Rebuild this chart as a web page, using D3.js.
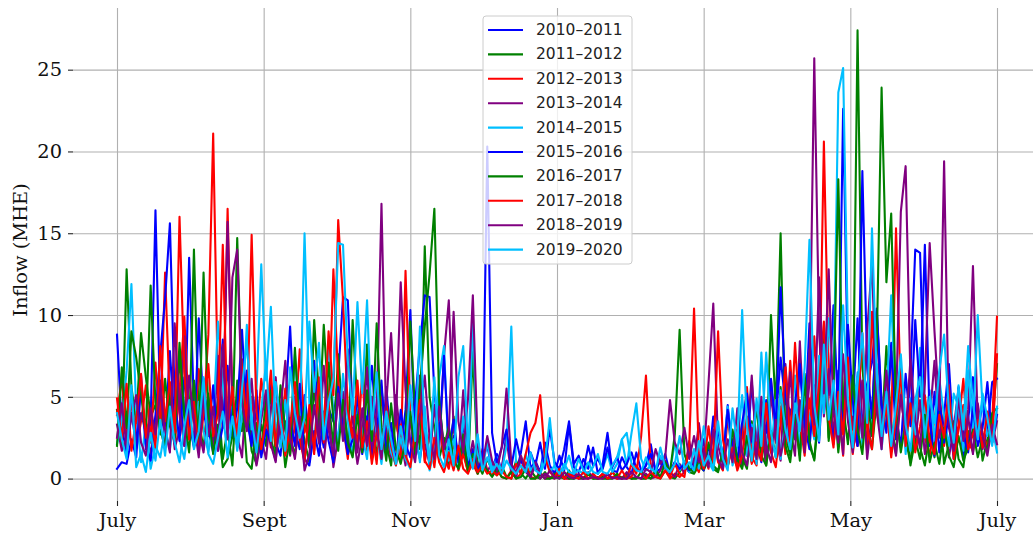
<!DOCTYPE html>
<html>
<head>
<meta charset="utf-8">
<script src="https://cdn.jsdelivr.net/npm/d3@7"></script>
<style>
  body { margin: 0; background: #fff; }
  svg { display: block; }
</style>
</head>
<body>
<div id="chart"></div>
<script>
// Seasons (legend labels) and line colours
const seasons = ["2010–2011", "2011–2012", "2012–2013", "2013–2014", "2014–2015",
                 "2015–2016", "2016–2017", "2017–2018", "2018–2019", "2019–2020"];
const seasonColors = ["blue", "green", "red", "purple", "deepskyblue",
                      "blue", "green", "red", "purple", "deepskyblue"];

// x tick positions (day of season) and labels
const monthTicks = [0, 61, 122, 183, 244, 305, 366];
const monthLabels = ["July", "Sept", "Nov", "Jan", "Mar", "May", "July"];
const inflowTicks = [0, 5, 10, 15, 20, 25];

// Inflow (MHE), sampled every second day from 1 July
const inflow2010 = [8.8,3.2,1.5,4.0,2.1,6.3,1.8,3.5,16.4,4.2, 2.6,7.8,3.1,5.5,2.0,13.5,4.4,2.3,6.1,3.0,
  1.6,4.8,8.5,2.9,5.2,1.9,3.7,6.6,2.4,4.1, 1.7,3.3,5.8,2.2,1.4,4.6,9.3,3.0,1.8,5.1,
  2.5,7.2,3.6,1.9,4.3,3.5,6.2,11.1,10.9,4.0, 4.7,1.5,3.4,6.9,2.7,1.3,5.6,2.1,3.8,1.6,
  4.2,10.3,2.4,1.2,3.1,0.9,2.3,5.0,1.4,0.8, 2.6,1.1,3.4,0.7,1.8,0.6,1.2,2.0,0.5,1.5,
  0.4,2.8,0.9,0.3,1.6,3.5,0.6,1.1,0.4,2.2, 0.8,0.3,1.4,0.5,3.3,0.7,0.4,1.2,0.6,1.9,
  0.3,0.9,2.8,0.5,0.4,1.3,0.7,0.3,1.6,0.5, 0.8,2.1,0.4,0.6,1.5,0.3,1.0,0.5,0.8,0.4,
  1.2,0.6,2.4,0.9,3.8,1.1,0.7,4.5,1.6,0.8, 3.2,1.4,5.9,2.1,1.0,4.8,1.7,3.6,7.4,4.6,
  4.2,2.5,6.8,3.1,9.5,4.0,2.2,7.3,5.1,10.6, 3.8,22.6,6.2,4.5,9.8,3.0,5.8,7.1,10.4,4.6,
  3.2,8.3,2.4,5.7,1.9,6.5,14.0,13.8,4.1,2.0, 5.3,1.6,3.9,7.0,2.2,4.5,1.3,3.6,6.2,2.5,
  4.8,3.0,5.9,6.1];
const inflow2011 = [4.2,2.0,12.8,5.6,3.4,8.9,6.2,3.8,4.5,2.7, 6.1,3.2,2.2,7.4,4.0,2.5,14.0,3.6,1.8,5.2,
  2.4,4.8,1.2,3.0,0.8,6.0,2.9,4.6,1.7,0.9, 3.3,2.0,5.4,1.5,3.8,0.7,2.6,1.4,4.1,2.3,
  1.0,5.5,3.1,9.4,4.7,2.0,7.6,3.4,1.6,9.7, 4.3,2.1,8.2,3.0,1.4,5.6,2.2,0.8,3.9,1.5,
  2.7,9.6,4.0,1.8,14.2,5.0,3.1,1.2,2.5,0.9, 3.8,0.6,1.7,0.4,7.8,0.9,0.3,1.2,0.5,0.2,
  0.8,0.1,0.0,1.1,0.3,0.0,0.5,0.1,0.0,0.4, 0.0,0.3,0.1,0.0,0.5,0.0,0.1,0.0,0.3,0.0,
  0.1,0.0,0.0,0.4,0.1,0.0,0.3,0.0,0.1,0.0, 0.0,0.3,0.1,0.0,0.5,0.1,0.0,0.4,0.9,0.4,
  0.3,0.8,0.5,1.2,0.6,0.4,1.6,0.7,2.4,0.9, 1.3,0.6,3.5,1.0,2.8,0.8,10.0,4.2,15.0,2.6,
  1.4,3.9,1.1,6.4,2.0,1.2,4.7,8.6,2.3,5.5, 1.6,4.3,9.2,3.0,27.4,6.8,3.5,1.8,4.9,2.7,
  8.1,3.4,1.5,5.8,2.4,1.0,3.6,1.9,0.8,2.7, 1.3,4.4,0.9,2.1,3.5,1.2,0.7,2.9,1.6,3.8,
  1.1,2.4,3.3,7.0];
const inflow2012 = [3.9,6.2,2.4,4.8,1.8,3.5,5.7,2.2,7.1,3.0, 12.6,4.5,2.1,5.3,9.9,3.4,2.6,6.7,4.0,8.8,
  21.1,5.2,3.1,16.5,4.4,2.5,7.3,3.6,5.0,2.3, 6.1,3.8,1.9,4.6,2.7,5.5,1.6,3.2,7.9,2.8,
  4.1,1.5,5.3,2.2,3.6,12.8,6.0,3.3,1.2,4.2, 2.0,6.4,1.7,3.1,0.9,5.2,2.6,1.4,4.0,1.1,
  12.7,3.5,1.9,5.8,1.0,2.7,0.7,3.4,1.3,0.6, 2.2,0.5,1.5,0.4,0.9,0.3,1.8,0.5,0.2,0.7,
  0.1,0.0,0.5,0.0,0.3,1.0,0.1,0.0,0.4,0.0, 0.1,0.0,0.3,0.0,0.0,0.5,0.0,0.1,0.0,0.3,
  0.0,0.1,0.0,0.4,0.0,0.1,0.0,0.9,0.3,2.6, 6.3,0.7,0.3,0.1,0.5,0.0,0.3,0.1,0.4,1.8,
  0.9,0.4,1.6,0.6,2.8,1.0,0.5,3.7,1.4,0.7, 2.5,5.6,1.3,0.8,3.9,1.7,6.0,2.2,4.4,1.5,
  7.2,3.0,1.8,5.4,2.6,8.7,3.9,20.6,6.5,2.9, 4.8,1.4,7.7,3.3,2.0,5.9,1.6,10.2,4.1,2.4,
  6.3,3.2,15.3,5.0,2.7,4.3,1.8,6.8,2.5,1.4, 3.7,5.5,2.0,4.6,1.5,3.3,6.1,2.2,1.7,4.0,
  2.8,1.9,3.5,9.9];
const inflow2013 = [3.3,1.7,2.5,5.2,1.9,4.0,2.8,1.5,3.6,6.0, 2.3,4.7,1.8,3.1,8.7,2.4,5.9,3.0,1.6,4.4,
  2.1,7.5,3.4,15.7,4.9,2.6,1.3,5.8,3.2,0.8, 2.4,1.2,4.3,6.2,2.0,3.5,1.4,5.0,2.7,1.1,
  3.8,6.5,2.2,1.0,4.1,0.7,2.5,5.3,1.8,3.1, 0.9,2.6,6.8,1.5,4.0,16.8,3.2,1.3,5.1,2.4,
  0.8,3.7,1.5,6.3,2.1,0.9,4.5,1.7,7.5,10.9, 3.0,1.2,5.4,0.8,2.3,0.6,1.6,0.4,1.0,0.3,
  0.7,2.4,0.3,0.1,1.2,0.4,0.1,0.8,0.0,0.3, 0.1,0.0,0.5,0.1,0.0,0.3,0.0,0.0,0.4,0.1,
  0.0,0.3,0.0,0.1,0.0,0.0,0.4,0.0,0.1,0.0, 0.3,0.0,0.1,0.5,1.1,0.4,0.1,0.9,0.3,2.3,
  0.8,3.4,1.2,5.8,10.7,2.0,0.9,4.1,1.6,3.0, 0.7,2.2,6.3,1.5,3.8,0.9,5.2,2.4,1.1,7.0,
  3.1,1.4,8.4,2.6,5.9,25.7,9.0,3.8,6.7,2.1, 4.4,1.5,8.1,3.2,2.0,6.0,1.2,3.9,9.7,2.8,
  5.1,1.7,4.3,16.3,19.1,6.2,2.3,4.8,1.5,3.6, 7.2,2.5,4.0,1.3,3.1,5.5,2.0,4.2,13.0,3.4,
  1.8,3.0,2.2,3.5];
const inflow2014 = [2.1,3.5,6.6,11.9,4.2,1.0,3.4,0.6,2.0,1.3, 3.1,1.8,4.0,2.4,1.2,3.6,2.0,4.7,2.9,1.6,
  3.3,9.6,5.8,2.6,4.4,1.7,3.8,9.4,3.0,5.3, 13.1,6.0,10.5,3.4,1.9,4.8,2.5,7.6,3.2,15.0,
  4.6,2.1,5.9,3.0,8.3,4.1,2.2,6.4,3.5,1.4, 4.9,2.6,1.2,5.0,2.8,0.9,3.9,1.6,0.8,2.5,
  1.2,0.6,3.0,1.0,4.4,0.5,1.7,6.2,8.1,1.1, 2.4,0.7,3.8,0.9,9.7,1.5,0.6,2.2,0.5,1.3,
  0.4,2.0,9.3,0.7,0.3,1.5,0.5,0.9,0.3,1.8, 0.4,0.8,0.3,0.6,1.4,0.3,0.5,0.3,1.0,0.4,
  0.3,0.6,1.5,0.4,0.9,2.4,0.8,2.8,4.6,1.2, 0.5,0.8,0.3,1.4,0.6,0.4,2.2,0.5,1.1,0.4,
  1.8,0.6,3.2,1.0,0.5,2.6,1.3,4.4,0.8,2.0, 5.1,1.4,3.3,0.9,7.7,2.5,1.6,4.8,1.2,3.5,
  2.0,6.3,1.7,5.0,3.8,2.4,7.5,4.0,9.8,5.6, 23.6,25.1,8.7,3.9,6.5,2.0,5.3,3.1,7.0,1.8,
  4.6,11.2,3.4,6.2,1.5,4.9,2.7,8.0,3.6,5.4, 2.3,6.1,3.8,2.0,5.2,4.4,1.7,6.6,3.0,10.0,
  4.3,2.6,3.2,1.6];
const inflow2015 = [0.6,1.0,0.9,2.4,1.3,5.8,2.1,1.1,3.9,7.6, 11.0,15.6,4.8,2.3,6.2,3.5,1.9,9.8,4.1,2.6,
  5.7,1.7,3.2,6.9,2.5,4.3,9.1,3.6,2.0,5.4, 1.3,3.0,2.2,1.1,4.5,1.6,3.7,2.0,5.8,1.2,
  0.8,2.9,1.4,4.1,2.3,1.0,5.6,3.2,1.5,2.4, 5.1,1.9,3.8,1.2,2.7,6.0,1.5,3.4,0.9,4.2,
  2.1,1.3,4.6,8.2,11.2,11.1,5.3,2.4,7.5,1.8, 3.6,1.0,2.2,0.8,1.6,0.5,1.2,20.3,2.8,0.9,
  1.9,3.0,0.7,2.4,1.1,0.5,1.6,0.8,2.2,0.6, 3.1,1.0,0.6,1.8,3.5,0.9,1.4,0.5,2.0,0.8,
  1.2,0.6,1.9,0.7,1.3,0.5,0.9,1.6,0.6,0.4, 0.8,1.5,0.5,1.1,0.7,0.4,1.0,0.6,0.9,0.5,
  0.7,1.4,0.5,2.0,0.9,3.1,1.3,4.2,2.0,1.1, 3.4,5.2,2.3,1.5,4.3,2.8,6.1,3.0,11.7,5.4,
  2.1,4.6,7.0,3.3,1.8,5.7,2.6,8.4,4.0,2.3, 6.6,3.1,9.4,4.8,2.0,18.8,6.9,3.7,10.2,4.5,
  2.8,7.8,3.9,1.9,6.4,3.2,9.7,5.0,14.3,3.5, 1.4,4.9,2.2,3.8,1.2,5.6,2.7,1.6,4.4,2.0,
  3.1,5.9,2.4,3.9];
const inflow2016 = [2.0,6.8,3.1,9.0,7.4,5.2,2.8,11.8,4.6,3.0, 1.9,5.4,2.5,8.3,3.7,1.6,6.0,2.2,12.6,4.0,
  1.5,3.3,0.7,1.2,2.6,14.7,5.1,1.0,0.6,3.4, 1.8,4.9,2.4,1.3,5.7,3.0,1.5,8.0,2.8,4.4,
  1.9,9.7,5.0,2.5,7.1,3.6,1.7,4.8,2.2,1.3, 3.9,1.6,5.4,2.3,9.5,3.1,1.1,4.6,1.8,0.9,
  2.3,4.1,1.4,5.6,9.3,12.5,16.5,4.7,1.9,3.2, 1.1,0.6,2.7,0.4,1.5,0.3,0.9,0.5,0.1,0.6,
  0.1,0.0,0.4,0.0,0.1,0.6,0.0,0.0,0.3,0.0, 0.0,0.1,0.0,0.4,0.0,0.0,0.1,0.0,0.3,0.0,
  0.0,0.1,0.0,0.0,0.3,0.0,0.1,0.0,0.0,0.4, 0.1,0.0,0.5,0.1,1.0,0.4,2.7,9.1,1.5,0.6,
  0.4,1.1,0.6,2.2,0.8,0.5,1.7,0.7,3.0,1.2, 0.6,2.6,1.0,4.5,1.4,0.8,2.9,1.3,5.6,2.0,
  1.0,3.7,1.4,6.1,2.3,1.1,4.2,9.0,2.5,5.2, 18.3,4.4,2.1,6.3,3.0,1.5,5.0,2.6,8.2,23.9,
  12.0,16.2,4.1,1.6,3.5,0.8,2.4,1.2,3.9,1.0, 2.2,0.9,3.1,1.4,0.7,2.6,1.1,1.9,3.0,1.3,
  2.5,1.7,4.0,4.3];
const inflow2017 = [4.9,2.3,5.8,1.7,3.6,6.4,2.5,4.2,1.9,8.1, 3.5,5.9,2.8,16.0,6.5,2.4,4.7,1.6,3.9,7.0,
  2.6,4.0,14.3,3.1,5.6,2.2,6.8,3.3,14.9,4.1, 1.8,3.6,6.6,2.0,4.3,1.4,3.1,5.9,2.4,1.0,
  4.5,1.7,6.2,3.0,9.0,5.1,15.8,10.9,4.2,2.5, 6.0,1.9,3.5,0.9,2.8,1.3,4.7,2.0,0.8,3.3,
  1.4,0.7,2.9,4.8,1.1,0.6,2.5,1.0,0.4,1.6, 0.5,2.0,0.6,0.3,1.2,0.4,0.8,0.3,0.5,0.2,
  0.5,0.1,0.0,0.9,0.3,1.5,2.8,3.4,5.1,1.3, 0.4,0.1,0.6,0.0,0.3,0.1,0.0,0.4,0.0,0.1,
  0.0,0.3,0.0,0.1,0.0,0.5,0.0,0.1,0.8,0.3, 0.0,0.4,0.1,0.0,0.5,0.1,0.9,0.3,0.1,2.1,
  10.4,1.5,0.6,3.2,1.0,9.0,2.4,0.8,1.9,0.5, 1.4,3.8,0.9,2.2,1.1,4.6,1.6,0.7,3.4,6.8,
  2.1,8.3,3.5,1.4,4.9,2.6,5.8,9.6,3.8,1.9, 5.3,2.7,7.4,1.5,4.0,8.9,3.1,1.8,6.0,2.4,
  4.5,1.3,3.7,6.4,2.0,4.6,1.6,3.2,5.1,2.3, 1.5,3.9,2.5,5.7,1.2,3.0,4.5,1.8,2.7,3.6,
  1.9,4.1,2.2,7.6];
const inflow2018 = [2.5,4.6,1.9,3.8,5.1,2.2,1.4,4.3,2.7,5.5, 3.0,1.6,9.5,4.1,2.0,6.3,3.5,1.3,5.0,2.6,
  4.4,1.7,8.2,2.4,12.3,14.0,4.6,2.9,6.1,1.9, 3.6,5.4,2.1,1.0,4.2,7.2,2.5,1.2,3.8,0.5,
  1.5,4.5,2.2,6.9,3.0,1.4,5.2,2.3,7.9,3.6, 1.6,4.3,2.0,5.0,3.1,1.2,4.6,8.9,3.3,12.0,
  5.4,2.2,1.0,3.9,6.3,2.5,1.2,4.4,1.8,2.9, 10.2,3.5,1.6,4.9,11.2,2.0,0.8,2.6,1.1,0.5,
  1.9,5.5,0.9,0.3,1.4,0.5,0.1,1.0,0.3,0.0, 0.5,0.1,0.0,0.4,0.1,0.0,0.3,0.0,0.0,0.1,
  0.0,0.0,0.3,0.0,0.1,0.0,0.0,0.4,0.1,0.0, 0.6,0.4,1.8,0.9,1.3,4.8,2.2,1.5,3.1,1.2,
  2.6,1.0,1.8,0.7,3.0,1.2,0.6,2.4,1.0,4.3, 1.6,0.8,3.1,1.2,5.0,2.0,1.0,3.6,1.4,2.8,
  6.5,2.4,4.8,1.6,7.9,3.3,12.3,5.2,12.8,4.0, 2.2,7.6,3.5,1.6,5.4,2.5,9.0,13.2,4.1,1.8,
  6.6,3.0,1.4,5.1,2.7,7.3,3.6,1.9,5.8,14.4, 9.0,4.2,19.4,3.1,1.7,5.0,2.3,3.8,1.5,4.6,
  2.6,1.4,3.3,2.1];
const inflow2019 = [4.0,2.4,1.2,5.7,0.7,1.5,0.4,2.8,1.1,3.6, 1.4,4.4,2.2,1.0,3.2,4.8,1.8,2.9,6.2,1.5,
  0.9,2.5,4.1,1.3,3.8,2.0,5.5,8.4,3.6,1.6, 4.2,7.1,2.3,5.9,3.4,1.7,6.8,4.0,2.5,3.7,
  9.6,5.3,8.3,2.4,4.7,6.1,14.4,14.3,7.2,3.9, 10.8,5.2,10.9,3.0,6.5,1.8,4.1,2.4,0.9,3.2,
  1.5,5.7,2.3,9.3,3.0,1.1,6.2,1.4,0.7,2.4, 0.8,6.2,8.1,1.9,0.6,2.7,0.5,1.3,0.4,0.9,
  0.3,1.1,0.6,0.3,0.8,0.4,1.6,0.5,0.3,1.0, 3.7,0.7,0.3,0.9,0.4,0.3,1.2,0.5,0.3,0.7,
  1.5,0.4,0.3,0.8,1.3,2.4,2.8,0.9,0.5,0.4, 1.3,0.6,0.4,1.9,0.7,0.4,0.9,2.6,0.6,1.0,
  0.5,2.3,0.8,1.4,0.6,3.5,1.2,0.5,4.3,2.0, 10.3,3.2,1.1,4.9,2.0,7.7,2.8,1.3,5.4,3.0,
  1.8,4.6,2.9,6.8,14.6,4.5,2.3,8.2,3.6,6.0, 2.7,10.6,4.8,1.9,5.8,8.9,3.4,15.3,6.1,2.6,
  5.3,2.0,4.5,7.6,3.3,1.7,4.8,6.2,2.5,5.0, 3.4,6.6,8.8,4.1,2.2,5.7,3.0,8.1,4.6,2.4,
  5.2,3.7,2.0,4.4];

const inflowSeries = [inflow2010, inflow2011, inflow2012, inflow2013, inflow2014,
                      inflow2015, inflow2016, inflow2017, inflow2018, inflow2019];
const sampleStep = 2; // days between samples

// Layout
const width = 1033, height = 534;
const plotLeft = 73, plotRight = 1041, plotTop = 8, plotBottom = 501;

const svg = d3.select("#chart").append("svg")
    .attr("width", width)
    .attr("height", height);

const x = d3.scaleLinear().domain([-18.3, 384.3]).range([plotLeft, plotRight]);
const y = d3.scaleLinear().domain([-1.37, 28.77]).range([plotBottom, plotTop]);

// Grid lines (below the data)
const grid = svg.append("g").attr("class", "grid");
grid.append("g")
    .attr("transform", `translate(0,${plotBottom})`)
    .call(d3.axisBottom(x).tickValues(monthTicks).tickSize(-(plotBottom - plotTop)).tickFormat(""));
grid.append("g")
    .attr("transform", `translate(${plotLeft},0)`)
    .call(d3.axisLeft(y).tickValues(inflowTicks).tickSize(-(plotRight - plotLeft)).tickFormat(""));
grid.selectAll(".domain").remove();
grid.selectAll("line").attr("stroke", "#b0b0b0").attr("stroke-width", 1.1);

// Lines
const line = d3.line()
    .x((d, i) => x(i * sampleStep))
    .y(d => y(d));

svg.append("g")
    .selectAll("path")
    .data(inflowSeries)
    .join("path")
    .attr("d", line)
    .attr("fill", "none")
    .attr("stroke", (d, i) => seasonColors[i])
    .attr("stroke-width", 2.1)
    .attr("stroke-linejoin", "round")
    .attr("stroke-linecap", "square");

// Axes (ticks and labels only, no spines)
const xAxis = svg.append("g")
    .attr("transform", `translate(0,${plotBottom})`)
    .call(d3.axisBottom(x).tickValues(monthTicks)
        .tickFormat((d, i) => monthLabels[i]).tickSize(5).tickPadding(7));
const yAxis = svg.append("g")
    .attr("transform", `translate(${plotLeft},0)`)
    .call(d3.axisLeft(y).tickValues(inflowTicks).tickSize(5).tickPadding(6));

[xAxis, yAxis].forEach(ax => {
    ax.select(".domain").remove();
    ax.selectAll("line").attr("stroke", "#222").attr("stroke-width", 1.1);
    ax.selectAll("text")
        .attr("fill", "#111")
        .style("font-family", "'DejaVu Serif', serif")
        .style("font-size", "19.4px");
});

svg.append("text")
    .attr("transform", "translate(20,250) rotate(-90)")
    .attr("text-anchor", "middle")
    .attr("dominant-baseline", "central")
    .attr("fill", "#111")
    .style("font-family", "'DejaVu Serif', serif")
    .style("font-size", "19.4px")
    .text("Inflow (MHE)");

// Legend
const legendX = 483, legendY = 16, rowGap = 24.4;
const legend = svg.append("g");
legend.append("rect")
    .attr("x", legendX)
    .attr("y", legendY)
    .attr("width", 149)
    .attr("height", 248)
    .attr("rx", 3)
    .attr("fill", "white")
    .attr("fill-opacity", 0.8)
    .attr("stroke", "#cccccc")
    .attr("stroke-width", 1);

const rows = legend.selectAll(".row")
    .data(seasons)
    .join("g")
    .attr("class", "row")
    .attr("transform", (d, i) => `translate(${legendX},${legendY + 14 + i * rowGap})`);
rows.append("line")
    .attr("x1", 5).attr("x2", 40)
    .attr("stroke", (d, i) => seasonColors[i])
    .attr("stroke-width", 2.1);
rows.append("text")
    .attr("x", 53)
    .attr("dominant-baseline", "central")
    .attr("fill", "#222")
    .style("font-family", "'DejaVu Sans', sans-serif")
    .style("font-size", "15.5px")
    .text(d => d);
</script>
</body>
</html>
